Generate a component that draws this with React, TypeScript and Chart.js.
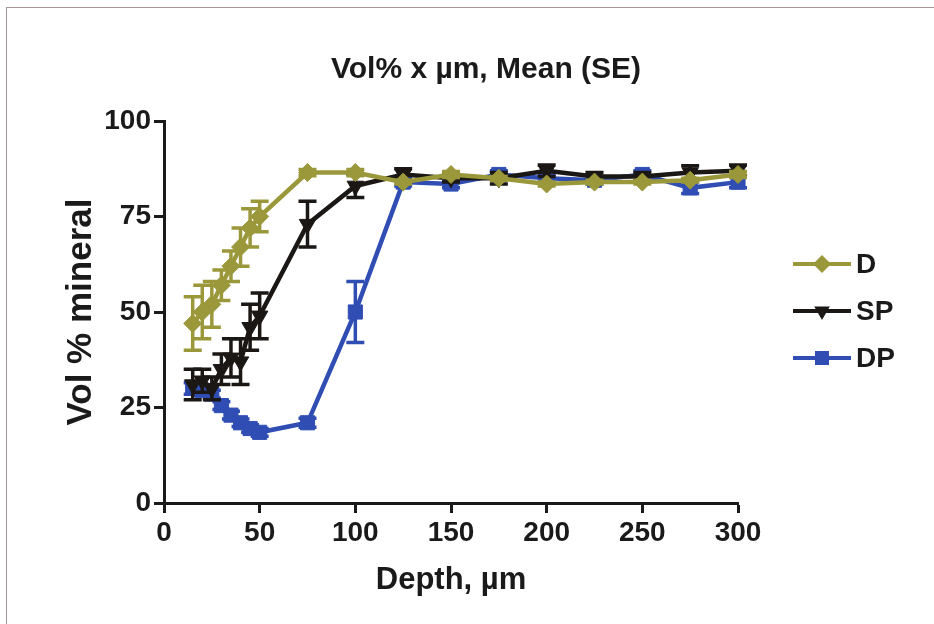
import { useEffect, useRef } from "react";
import { Chart, registerables } from "chart.js";

Chart.register(...registerables);

// Sampling depths (µm)
const depths = [15, 20, 25, 30, 35, 40, 45, 50, 75, 100, 125, 150, 175, 200, 225, 250, 275, 300];

// Mean vol % mineral and standard error per group
const dMean = [47, 50, 52, 57, 62, 67, 72, 75, 86.5, 86.5, 84, 86, 85, 83.5, 84, 84, 84.5, 86];
const dSE = [7, 7, 6, 4, 4, 5, 5, 4, 0.8, 0.8, 0.5, 0.8, 0.5, 0.5, 0.5, 0.5, 0.5, 0.8];

const spMean = [31, 32, 30, 35, 38, 37, 46, 49, 73, 83, 86, 85, 85, 87, 85.5, 85.5, 86.5, 87];
const spSE = [4, 3, 3, 4, 5, 6, 6, 6, 6, 3, 1.5, 1, 1.5, 1.5, 1, 1, 1.8, 1.5];

const dpMean = [30, 29.5, 28.5, 25.5, 23, 21, 19.5, 18.5, 21, 50, 84, 83.5, 86, 85, 84.5, 86, 82.5, 84];
const dpSE = [1.5, 1.2, 1, 1, 1, 1, 1, 1, 1.2, 8, 1, 1, 1, 1, 1, 1, 1.5, 1.5];

const seriesNames = ["D", "SP", "DP"];
const seriesColors = ["#9a983a", "#1b1715", "#2f4db3"];
const seriesMarkers = ["diamond", "triangleDown", "square"];

const xTickStep = 50;
const yTickStep = 25;

const chartTitle = "Vol% x µm, Mean (SE)";
const xTitle = "Depth, µm";
const yTitle = "Vol % mineral";

const FONT = "'Liberation Sans', Arial, Helvetica, sans-serif";
const INK = "#1a1a1a";

const seLists = [dSE, spSE, dpSE];

function drawMarker(ctx: CanvasRenderingContext2D, kind: string, x: number, y: number) {
  ctx.beginPath();
  if (kind === "diamond") {
    const r = 9;
    ctx.moveTo(x, y - r);
    ctx.lineTo(x + r, y);
    ctx.lineTo(x, y + r);
    ctx.lineTo(x - r, y);
  } else if (kind === "triangleDown") {
    const r = 9;
    ctx.moveTo(x - r * 0.866, y - r / 2);
    ctx.lineTo(x + r * 0.866, y - r / 2);
    ctx.lineTo(x, y + r);
  } else {
    const h = 7;
    ctx.rect(x - h, y - h, 2 * h, 2 * h);
  }
  ctx.closePath();
  ctx.fill();
}

// Vertical SE bars with caps, drawn just beneath each series
const errorBars = {
  id: "errorBars",
  beforeDatasetDraw(chart: any, args: any) {
    const se = seLists[args.index];
    if (!se) return;
    const ds = chart.data.datasets[args.index];
    const { ctx } = chart;
    const xs = chart.scales.x;
    const ys = chart.scales.y;
    ctx.save();
    ctx.strokeStyle = ds.borderColor;
    ctx.lineWidth = 3.5;
    ds.data.forEach((p: any, j: number) => {
      const x = xs.getPixelForValue(p.x);
      const yt = ys.getPixelForValue(p.y + se[j]);
      const yb = ys.getPixelForValue(p.y - se[j]);
      ctx.beginPath();
      ctx.moveTo(x, yt);
      ctx.lineTo(x, yb);
      ctx.moveTo(x - 9, yt);
      ctx.lineTo(x + 9, yt);
      ctx.moveTo(x - 9, yb);
      ctx.lineTo(x + 9, yb);
      ctx.stroke();
    });
    ctx.restore();
  },
};

// Title above the plot and line+symbol legend to the right
const decorations = {
  id: "decorations",
  afterDraw(chart: any) {
    const { ctx, chartArea } = chart;
    ctx.save();
    ctx.fillStyle = INK;
    ctx.font = `bold 30px ${FONT}`;
    ctx.textAlign = "center";
    ctx.textBaseline = "middle";
    ctx.fillText(chartTitle, 486, 70);

    const mid = (chartArea.top + chartArea.bottom) / 2 - 1;
    const x0 = chartArea.right + 55;
    const x1 = chartArea.right + 113;
    chart.data.datasets.forEach((ds: any, i: number) => {
      const y = mid + (i - 1) * 47;
      ctx.strokeStyle = ds.borderColor;
      ctx.fillStyle = ds.borderColor;
      ctx.lineWidth = 4;
      ctx.beginPath();
      ctx.moveTo(x0, y);
      ctx.lineTo(x1, y);
      ctx.stroke();
      drawMarker(ctx, seriesMarkers[i], (x0 + x1) / 2, y);
      ctx.fillStyle = INK;
      ctx.font = `bold 28px ${FONT}`;
      ctx.textAlign = "left";
      ctx.textBaseline = "middle";
      ctx.fillText(ds.label, x1 + 5, y + 1);
    });
    ctx.restore();
  },
};

const pointStyles: any[] = ["rectRot", "triangle", "rect"];
const pointRotations = [0, 180, 0];
const pointRadii = [9, 9.5, 10];

export default function App() {
  const canvasRef = useRef<HTMLCanvasElement | null>(null);

  useEffect(() => {
    const canvas = canvasRef.current;
    if (!canvas) return;
    const means = [dMean, spMean, dpMean];
    const chart = new Chart(canvas, {
      type: "line",
      data: {
        datasets: means.map((m, i) => ({
          label: seriesNames[i],
          data: depths.map((d, j) => ({ x: d, y: m[j] })),
          borderColor: seriesColors[i],
          backgroundColor: seriesColors[i],
          borderWidth: 4.5,
          tension: 0,
          pointStyle: pointStyles[i],
          rotation: pointRotations[i],
          pointRadius: pointRadii[i],
          pointBorderWidth: 1,
          pointBorderColor: seriesColors[i],
          pointBackgroundColor: seriesColors[i],
          clip: false as any,
        })),
      },
      options: {
        responsive: false,
        animation: false,
        events: [],
        layout: { padding: { left: 18, right: 196, top: 121, bottom: 20 } },
        plugins: {
          legend: { display: false },
          title: { display: false },
          tooltip: { enabled: false },
        },
        scales: {
          x: {
            type: "linear",
            min: 0,
            max: 300,
            ticks: {
              stepSize: xTickStep,
              color: INK,
              padding: 3,
              font: { family: FONT, size: 28, weight: "bold" },
            },
            grid: {
              drawOnChartArea: false,
              drawTicks: true,
              tickLength: 10,
              tickWidth: 3,
              tickColor: INK,
            },
            border: { display: true, width: 3, color: INK },
            title: {
              display: true,
              text: xTitle,
              color: INK,
              font: { family: FONT, size: 31, weight: "bold" },
              padding: { top: 0, bottom: 5 },
            },
            afterFit(s: any) {
              s.height = 101;
            },
          },
          y: {
            type: "linear",
            min: 0,
            max: 100,
            ticks: {
              stepSize: yTickStep,
              color: INK,
              padding: 3,
              font: { family: FONT, size: 28, weight: "bold" },
            },
            grid: {
              drawOnChartArea: false,
              drawTicks: true,
              tickLength: 10,
              tickWidth: 3,
              tickColor: INK,
            },
            border: { display: true, width: 3, color: INK },
            title: {
              display: true,
              text: yTitle,
              color: INK,
              font: { family: FONT, size: 35, weight: "bold" },
              padding: { top: 42, bottom: 0 },
            },
            afterFit(s: any) {
              s.width = 146;
            },
          },
        },
      } as any,
      plugins: [errorBars, decorations],
    });
    return () => chart.destroy();
  }, []);

  return (
    <div style={{ position: "fixed", left: 0, top: 0, width: 934, height: 624, background: "#fff" }}>
      <div
        style={{
          position: "absolute",
          left: 6,
          top: 7,
          right: 0,
          bottom: 0,
          borderTop: "1px solid #a89696",
          borderLeft: "1px solid #a89696",
        }}
      />
      <canvas ref={canvasRef} width={934} height={624} style={{ position: "absolute", left: 0, top: 0 }} />
    </div>
  );
}
